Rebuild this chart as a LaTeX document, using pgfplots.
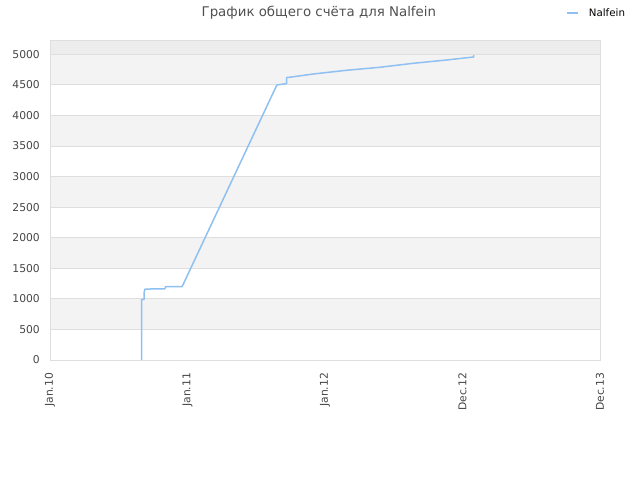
\documentclass[border=0pt]{standalone}
\usepackage{fontspec}
\setmainfont{DejaVu Sans}
\usepackage{pgfplots}
\pgfplotsset{compat=1.18}
\definecolor{lineblue}{RGB}{142,192,242}
\definecolor{bandgray}{RGB}{243,243,243}
\definecolor{topgray}{RGB}{237,237,237}
\definecolor{gridgray}{RGB}{222,222,222}
\definecolor{ticktext}{RGB}{70,70,70}
\definecolor{titlegray}{RGB}{80,80,80}

\begin{document}
\begin{tikzpicture}
\begin{axis}[
  set layers,
  scale only axis,
  width=550bp, height=320bp,
  at={(0,0)}, anchor=south west,
  xmin=0, xmax=4,
  ymin=0, ymax=5234,
  xtick={0,1,2,3,4},
  xticklabels={Jan.10,Jan.11,Jan.12,Dec.12,Dec.13},
  ytick={0,500,...,5000},
  ymajorgrids=true,
  grid style={gridgray, line width=0.8bp},
  axis line style={gridgray, line width=0.8bp},
  tick style={draw=none},
  ticklabel style={font=\fontsize{10.8}{12}\selectfont, text=ticktext, inner sep=0pt},
  x tick label style={rotate=90, anchor=east, xshift=-12.7bp},
  y tick label style={anchor=east, xshift=-10bp},
  /pgf/number format/assume math mode=true,
  /pgf/number format/1000 sep={},
  every axis title shift=0pt,
  title={График общего счёта для Nalfein},
  title style={at={(axis description cs:0.4888,1.0844)}, anchor=center,
    font=\fontsize{13.4}{15}\selectfont, text=titlegray, inner sep=0pt},
  legend style={at={(axis description cs:0.9382,1.0844)}, anchor=west,
    draw=none, fill=none, inner sep=0pt,
    font=\fontsize{10.3}{12}\selectfont,
    nodes={inner sep=0pt},
    /tikz/every odd column/.append style={column sep=9.7bp}},
  legend image code/.code={\draw[#1, line width=2bp] (0bp,0bp) -- (11bp,0bp);},
]
\begin{pgfonlayer}{axis background}
\fill[bandgray] (axis cs:0,500) rectangle (axis cs:4,1000);
\fill[bandgray] (axis cs:0,1500) rectangle (axis cs:4,2000);
\fill[bandgray] (axis cs:0,2500) rectangle (axis cs:4,3000);
\fill[bandgray] (axis cs:0,3500) rectangle (axis cs:4,4000);
\fill[bandgray] (axis cs:0,4500) rectangle (axis cs:4,5000);
\fill[topgray] (axis cs:0,5000) rectangle (axis cs:4,5234);
\end{pgfonlayer}
\addplot[lineblue, line width=1.5bp, line join=round] coordinates {
(0.667,0) (0.667,990) (0.684,990) (0.684,1100) (0.691,1160)
(0.836,1165) (0.840,1198) (0.960,1200) (0.966,1225)
(1.649,4494) (1.655,4500) (1.720,4521) (1.720,4619)
(1.758,4629) (1.915,4678) (2.158,4739) (2.400,4788)
(2.642,4853) (2.885,4907) (3.079,4956) (3.084,4984)
};
\addlegendentry{Nalfein}
\end{axis}
\pgfresetboundingbox
\path (-50bp,-120bp) rectangle (590bp,360bp);
\end{tikzpicture}
\end{document}
